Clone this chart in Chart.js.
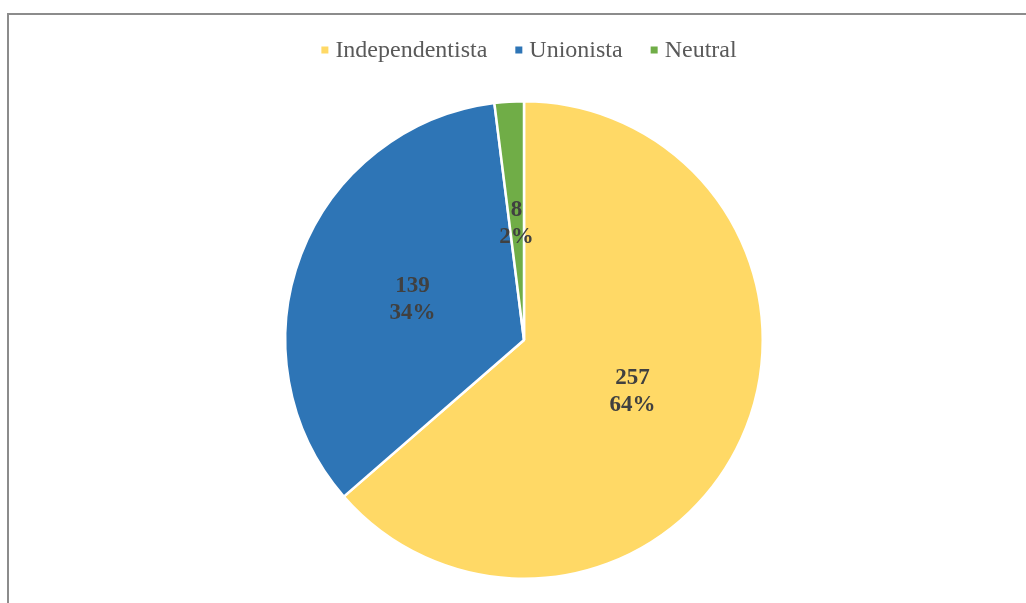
<!DOCTYPE html>
<html>
<head>
<meta charset="utf-8">
<script src="https://cdn.jsdelivr.net/npm/chart.js@4.4.1/dist/chart.umd.min.js"></script>
<style>
  html, body { margin: 0; padding: 0; background: #fff; overflow: hidden; }
  #wrap { position: relative; width: 1026px; height: 603px; }
  #frame { position: absolute; left: 7px; top: 13px; width: 1040px; height: 620px; border: 2px solid #8c8c8c; box-sizing: border-box; }
  canvas { position: absolute; left: 0; top: 0; }
</style>
</head>
<body>
<div id="wrap">
  <div id="frame"></div>
  <canvas id="c" width="1026" height="603"></canvas>
</div>
<script>
const categories = ["Independentista", "Unionista", "Neutral"];
const values = [257, 139, 8];
const percentLabels = ["64%", "34%", "2%"];
const colors = ["#FFD966", "#2E75B6", "#70AD47"];

const SERIF = '"Liberation Serif", "Times New Roman", serif';

const labelPlugin = {
  id: 'sliceLabels',
  afterDatasetsDraw(chart) {
    const ctx = chart.ctx;
    const meta = chart.getDatasetMeta(0);
    ctx.save();
    ctx.font = 'bold 23px ' + SERIF;
    ctx.fillStyle = '#404040';
    ctx.textAlign = 'center';
    ctx.textBaseline = 'middle';
    meta.data.forEach((arc, i) => {
      const p = arc.tooltipPosition();
      ctx.fillText(String(values[i]), p.x, p.y - 11);
      ctx.fillText(percentLabels[i], p.x, p.y + 16);
    });
    ctx.restore();
  }
};

const legendPlugin = {
  id: 'customLegend',
  afterDraw(chart) {
    const ctx = chart.ctx;
    const ds = chart.data.datasets[0];
    const box = 7, gapBoxText = 7, gapItems = 28;
    ctx.save();
    ctx.font = '24px ' + SERIF;
    ctx.textBaseline = 'middle';
    ctx.textAlign = 'left';
    const widths = chart.data.labels.map(l => ctx.measureText(l).width);
    let total = 0;
    widths.forEach((w, i) => { total += box + gapBoxText + w + (i < widths.length - 1 ? gapItems : 0); });
    let x = 529 - total / 2;
    const y = 50;
    chart.data.labels.forEach((l, i) => {
      ctx.fillStyle = ds.backgroundColor[i];
      ctx.fillRect(x, y - box / 2, box, box);
      x += box + gapBoxText;
      ctx.fillStyle = '#595959';
      ctx.fillText(l, x, y + 1);
      x += widths[i] + gapItems;
    });
    ctx.restore();
  }
};

new Chart(document.getElementById('c'), {
  type: 'pie',
  data: {
    labels: categories,
    datasets: [{
      data: values,
      backgroundColor: colors,
      borderColor: '#ffffff',
      borderWidth: 2.5
    }]
  },
  options: {
    responsive: false,
    animation: false,
    layout: { padding: { left: 22, right: 0, top: 100, bottom: 23 } },
    plugins: {
      tooltip: { enabled: false },
      legend: { display: false }
    }
  },
  plugins: [labelPlugin, legendPlugin]
});
</script>
</body>
</html>
